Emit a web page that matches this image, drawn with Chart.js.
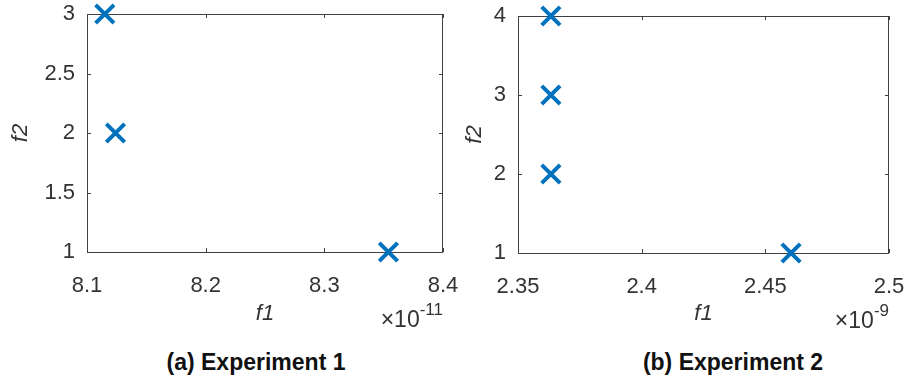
<!DOCTYPE html>
<html>
<head>
<meta charset="utf-8">
<script src="https://cdn.jsdelivr.net/npm/chart.js@4.4.1/dist/chart.umd.min.js"></script>
<style>
  body { margin: 0; background: #fff; width: 908px; height: 381px; position: relative; overflow: hidden; font-family: 'Liberation Sans', Arial, sans-serif; }
  .panel { position: absolute; top: 0; height: 340px; }
  .caption { position: absolute; top: 349px; font-weight: bold; font-size: 23px; color: #111; white-space: nowrap; transform: translateX(-50%); }
</style>
</head>
<body>
<div class="panel" style="left:454px; width:454px"><canvas id="chartB" width="454" height="340"></canvas></div>
<div class="panel" style="left:0; width:474px"><canvas id="chartA" width="474" height="340"></canvas></div>
<div class="caption" style="left:256px">(a) Experiment 1</div>
<div class="caption" style="left:733px">(b) Experiment 2</div>
<script>
// Experimento 1 (f1 en unidades de 1e-11)
const exp1F1 = [8.115, 8.124, 8.354];
const exp1F2 = [3, 2, 1];
const exp1XTicks = [8.1, 8.2, 8.3, 8.4];
const exp1YTicks = [1, 1.5, 2, 2.5, 3];

// Experimento 2 (f1 en unidades de 1e-9)
const exp2F1 = [2.3633, 2.3633, 2.3633, 2.4604];
const exp2F2 = [4, 3, 2, 1];
const exp2XTicks = [2.35, 2.4, 2.45, 2.5];
const exp2YTicks = [1, 2, 3, 4];

const FONT = "'Liberation Sans', Arial, sans-serif";
const TEXT = '#333333';
const BLUE = '#0072BD';

// Caja, marcas hacia dentro y exponente del eje x
const boxPlugin = {
    id: 'box',
    beforeDatasetsDraw(chart, args, opts) {
        const { ctx, chartArea: a, scales: { x, y } } = chart;
        ctx.save();
        ctx.strokeStyle = '#404040';
        ctx.lineWidth = 1;
        ctx.strokeRect(a.left + 0.5, a.top + 0.5, a.right - a.left - 1, a.bottom - a.top);
        ctx.beginPath();
        x.ticks.forEach(t => {
            const px = Math.round(x.getPixelForValue(t.value)) + 0.5;
            ctx.moveTo(px, a.bottom); ctx.lineTo(px, a.bottom - 4);
            ctx.moveTo(px, a.top); ctx.lineTo(px, a.top + 4);
        });
        y.ticks.forEach(t => {
            const py = Math.round(y.getPixelForValue(t.value)) + 0.5;
            ctx.moveTo(a.left, py); ctx.lineTo(a.left + 4, py);
            ctx.moveTo(a.right, py); ctx.lineTo(a.right - 4, py);
        });
        ctx.stroke();

        ctx.fillStyle = TEXT;
        ctx.textAlign = 'right';
        ctx.textBaseline = 'alphabetic';
        ctx.font = '17px ' + FONT;
        ctx.fillText(opts.exponent, a.right, a.bottom + 63);
        const w = ctx.measureText(opts.exponent).width;
        ctx.font = '23px ' + FONT;
        ctx.fillText('\u00d710', a.right - w, a.bottom + 75);
        ctx.restore();
    }
};

function noOverflow(s) {
    s.paddingTop = 0; s.paddingBottom = 0; s.paddingLeft = 0; s.paddingRight = 0;
}

function makeChart(id, xs, ys, xTicks, yTicks, exponent, pad, plotH, yWidth) {
    const fmt = v => String(+Number(v).toFixed(2));
    return new Chart(document.getElementById(id), {
        type: 'scatter',
        data: {
            datasets: [{
                data: xs.map((v, i) => ({ x: v, y: ys[i] })),
                pointStyle: 'crossRot',
                pointRadius: 13,
                pointHoverRadius: 13,
                borderColor: BLUE,
                backgroundColor: BLUE,
                borderWidth: 4,
                clip: false
            }]
        },
        options: {
            responsive: false,
            animation: false,
            devicePixelRatio: 1,
            layout: { padding: pad, autoPadding: false },
            plugins: {
                legend: { display: false },
                tooltip: { enabled: false },
                box: { exponent: exponent }
            },
            scales: {
                x: {
                    type: 'linear',
                    min: xTicks[0],
                    max: xTicks[xTicks.length - 1],
                    afterBuildTicks: s => { s.ticks = xTicks.map(v => ({ value: v })); },
                    afterFit: s => { s.height = 340 - pad.top - plotH; noOverflow(s); },
                    grid: { display: false, drawTicks: false },
                    border: { display: false },
                    ticks: { color: TEXT, font: { family: FONT, size: 22 }, padding: 21, maxRotation: 0, autoSkip: false, callback: fmt },
                    title: { display: true, text: 'f1', color: TEXT, font: { family: FONT, size: 22, style: 'italic' }, padding: { top: 0, bottom: 13 } }
                },
                y: {
                    type: 'linear',
                    min: yTicks[0],
                    max: yTicks[yTicks.length - 1],
                    afterBuildTicks: s => { s.ticks = yTicks.map(v => ({ value: v })); },
                    afterFit: s => { s.width = yWidth; noOverflow(s); },
                    grid: { display: false, drawTicks: false },
                    border: { display: false },
                    ticks: { color: TEXT, font: { family: FONT, size: 22 }, padding: 12, autoSkip: false, callback: fmt },
                    title: { display: true, text: 'f2', color: TEXT, font: { family: FONT, size: 22, style: 'italic' }, padding: { top: 8, bottom: 0 } }
                }
            }
        },
        plugins: [boxPlugin]
    });
}

makeChart('chartA', exp1F1, exp1F2, exp1XTicks, exp1YTicks, '-11',
    { left: 0, top: 14, right: 31, bottom: 0 }, 238, 87);
makeChart('chartB', exp2F1, exp2F2, exp2XTicks, exp2YTicks, '-9',
    { left: 0, top: 16, right: 19, bottom: 0 }, 237, 64);
</script>
</body>
</html>
